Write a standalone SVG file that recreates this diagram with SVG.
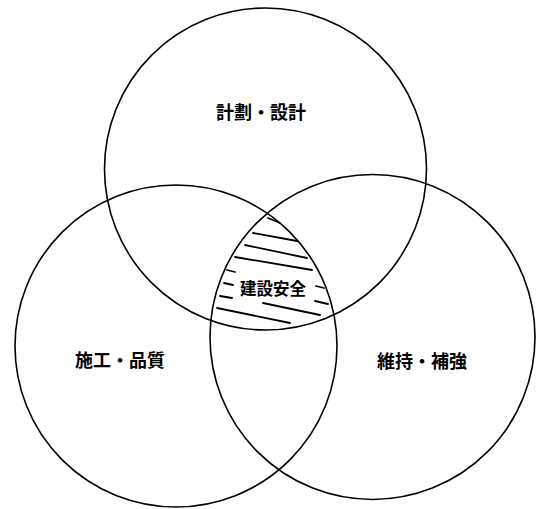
<svg xmlns="http://www.w3.org/2000/svg" width="536" height="509" viewBox="0 0 536 509">
<style>
.c{fill:none;stroke:#000;stroke-width:1.6}
.h{stroke:#000;stroke-width:1.8;stroke-linecap:round}
.t{font-family:"Noto Sans CJK JP","Noto Sans CJK SC",sans-serif;font-weight:bold;fill:#000;text-anchor:middle;dominant-baseline:central}
</style>
<rect width="536" height="509" fill="#fff"/>
<g id="top">
<circle class="c" cx="265.5" cy="169" r="161"/>
<text class="t" x="261" y="110.5" font-size="18">計劃・設計</text>
</g>
<g id="left">
<circle class="c" cx="176" cy="346" r="161"/>
<text class="t" x="120" y="359" font-size="18">施工・品質</text>
</g>
<g id="right">
<circle class="c" cx="372.5" cy="337" r="162.5"/>
<text class="t" x="422" y="360" font-size="18">維持・補強</text>
</g>
<g id="center">
<g id="hatch">
<line class="h" x1="268" y1="218" x2="280" y2="223"/>
<line class="h" x1="253" y1="233" x2="297" y2="241"/>
<line class="h" x1="245" y1="245" x2="307" y2="258"/>
<line class="h" x1="235" y1="257" x2="312" y2="270"/>
<line class="h" x1="227" y1="270" x2="235" y2="272"/>
<line class="h" x1="224" y1="283" x2="233" y2="285"/>
<line class="h" x1="316" y1="286" x2="324" y2="288"/>
<line class="h" x1="220" y1="296" x2="232" y2="298"/>
<line class="h" x1="315" y1="301" x2="328" y2="304"/>
<line class="h" x1="263" y1="303" x2="320" y2="315"/>
<line class="h" x1="217" y1="308" x2="290" y2="323"/>
</g>
<text class="t" x="273" y="288" font-size="16.5">建設安全</text>
</g>
</svg>
